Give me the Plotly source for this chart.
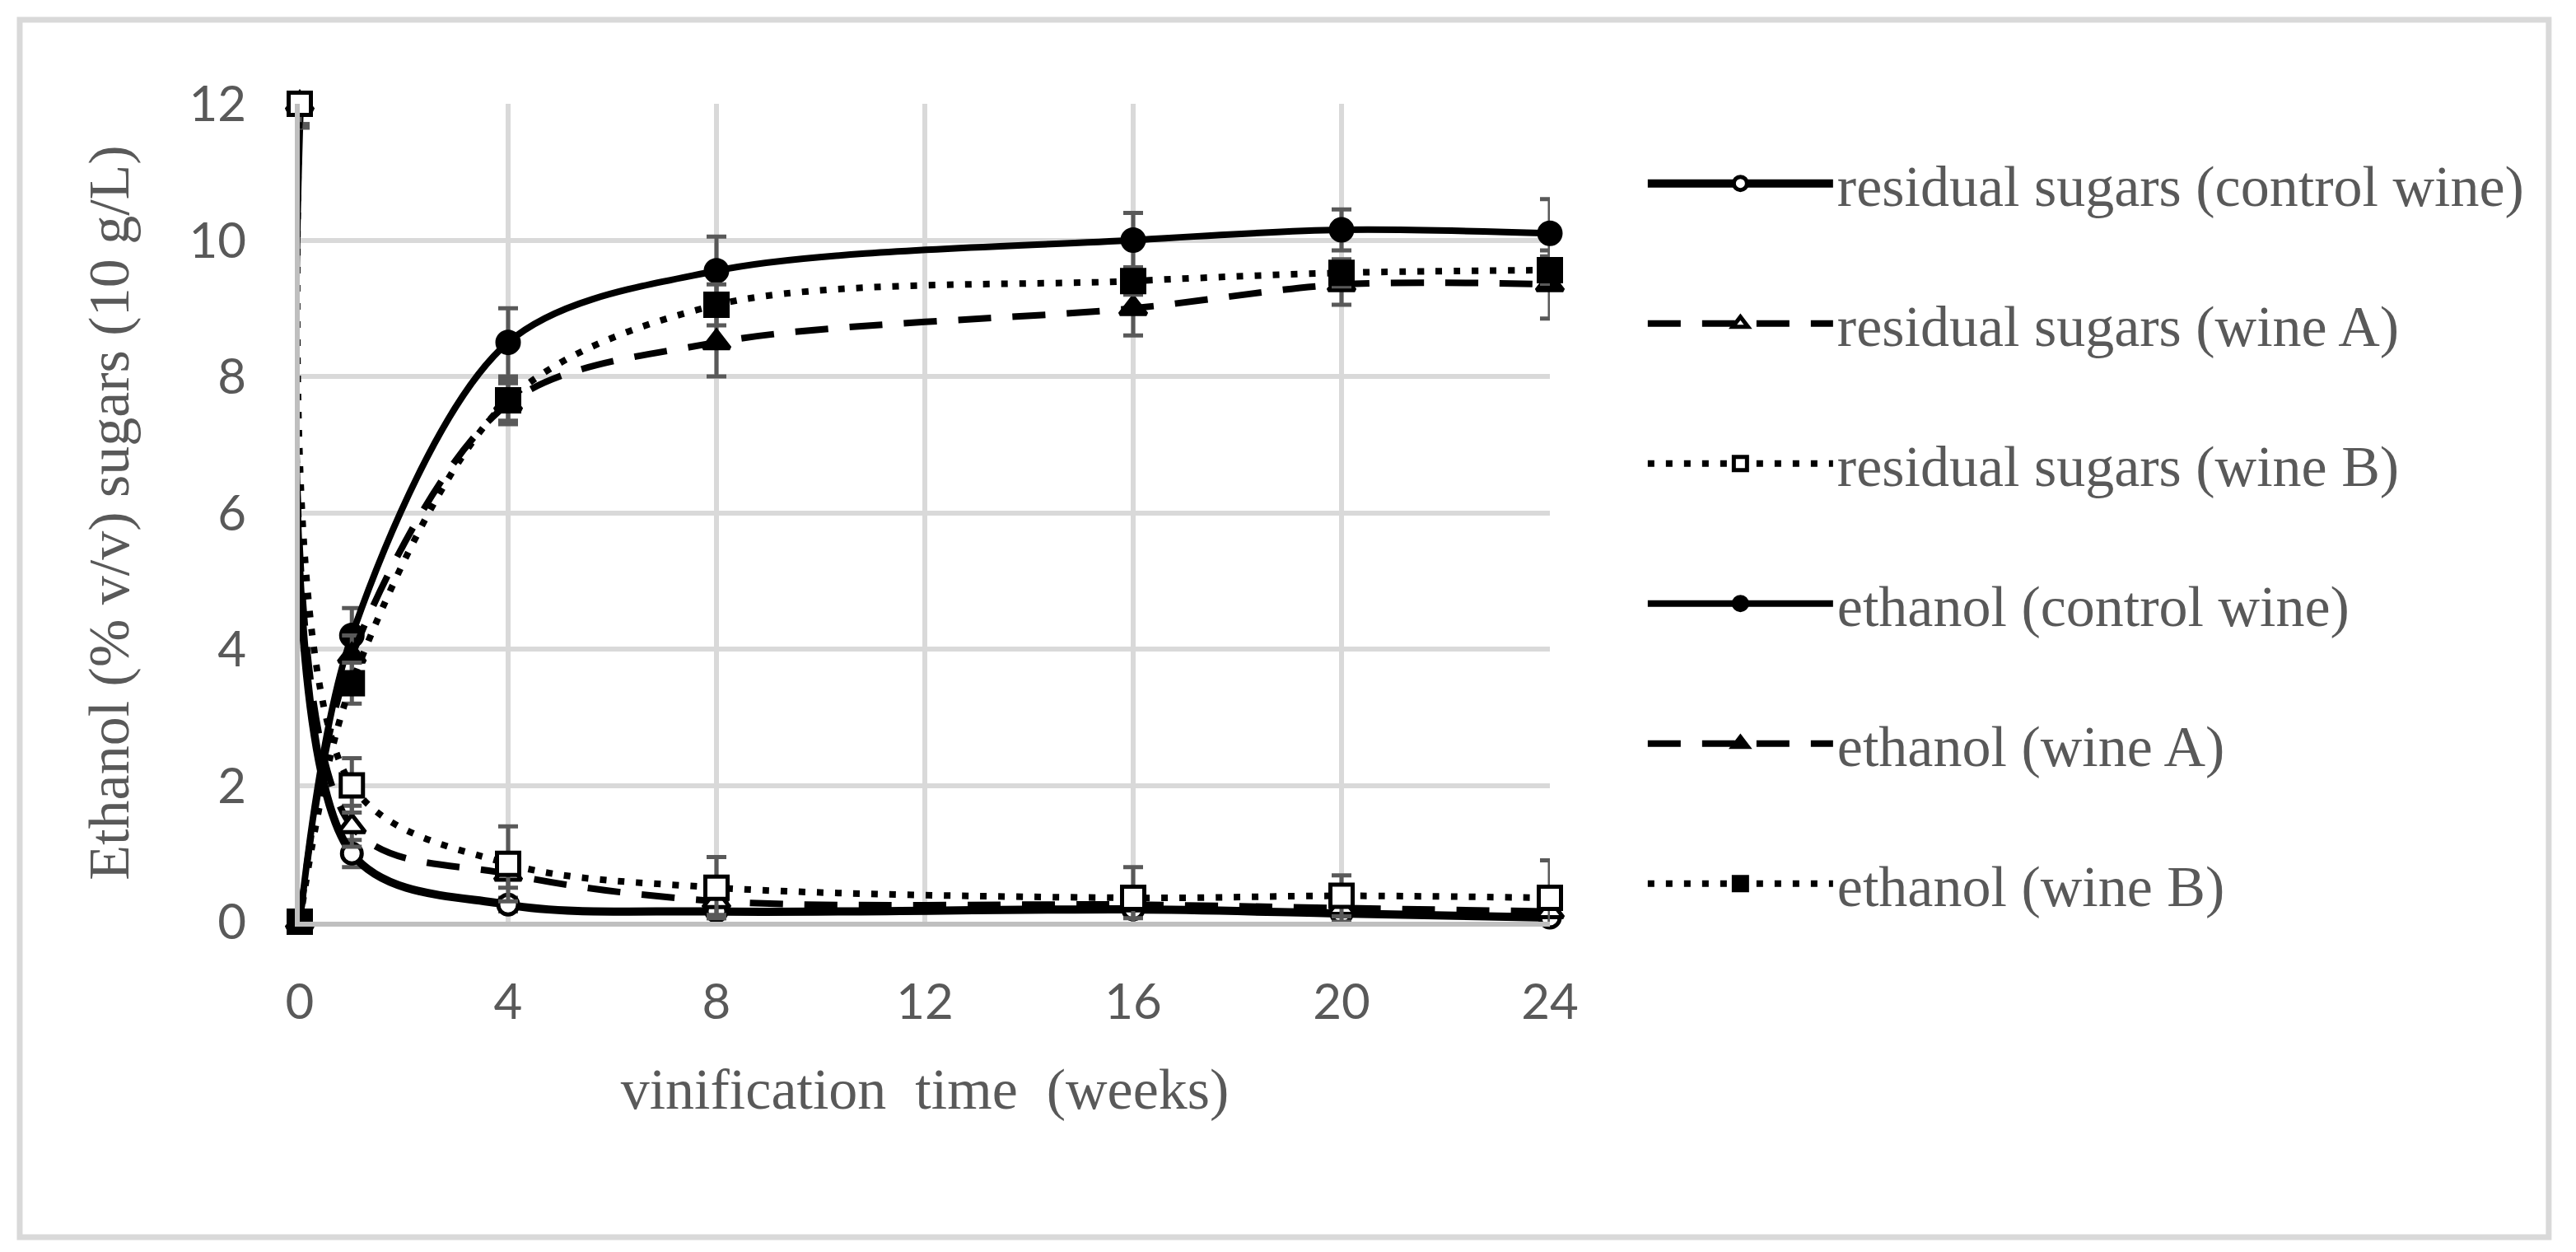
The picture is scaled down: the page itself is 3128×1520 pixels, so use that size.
import plotly.graph_objects as go

# ---------------- data ----------------
weeks = [0, 1, 4, 8, 16, 20, 24]

sugars_control = [12.0, 1.0, 0.25, 0.15, 0.18, 0.12, 0.06]
sugars_wine_a = [12.0, 1.4, 0.7, 0.3, 0.25, 0.2, 0.15]
sugars_wine_b = [12.0, 2.0, 0.85, 0.5, 0.35, 0.38, 0.35]
ethanol_control = [0.0, 4.2, 8.5, 9.55, 10.0, 10.15, 10.1]
ethanol_wine_a = [0.0, 3.9, 7.6, 8.5, 9.0, 9.35, 9.35]
ethanol_wine_b = [0.0, 3.5, 7.65, 9.05, 9.4, 9.52, 9.56]

err_sugars_control = [0.3, 0.2, 0.1, 0.1, 0.1, 0.1, 0.1]
err_sugars_wine_a = [0.3, 0.3, 0.2, 0.2, 0.2, 0.2, 0.2]
err_sugars_wine_b = [0.35, 0.4, 0.55, 0.45, 0.45, 0.3, 0.55]
err_ethanol_control = [0.0, 0.4, 0.5, 0.5, 0.4, 0.3, 0.5]
err_ethanol_wine_a = [0.0, 0.3, 0.3, 0.5, 0.4, 0.3, 0.5]
err_ethanol_wine_b = [0.0, 0.3, 0.3, 0.3, 0.2, 0.2, 0.2]

series_names = [
    "residual sugars (control wine)",
    "residual sugars (wine A)",
    "residual sugars (wine B)",
    "ethanol (control wine)",
    "ethanol (wine A)",
    "ethanol (wine B)",
]
series_values = [sugars_control, sugars_wine_a, sugars_wine_b,
                 ethanol_control, ethanol_wine_a, ethanol_wine_b]
series_errors = [err_sugars_control, err_sugars_wine_a, err_sugars_wine_b,
                 err_ethanol_control, err_ethanol_wine_a, err_ethanol_wine_b]

x_ticks = [0, 4, 8, 12, 16, 20, 24]
y_ticks = [0, 2, 4, 6, 8, 10, 12]

# ---------------- styles ----------------
DASH = "40px,26px"
DOT = "8px,14px"
styles = [
    dict(dash="solid", width=10, symbol="circle", size=24, fill="white"),
    dict(dash=DASH, width=8, symbol="triangle-up", size=28, fill="white"),
    dict(dash=DOT, width=8, symbol="square", size=27, fill="white"),
    dict(dash="solid", width=8, symbol="circle", size=26, fill="black"),
    dict(dash=DASH, width=8, symbol="triangle-up", size=28, fill="black"),
    dict(dash=DOT, width=8, symbol="square", size=27, fill="black"),
]

SERIF = "Liberation Serif, Times New Roman, serif"
SANS = "Lato, Liberation Sans, sans-serif"
GRAY = "#595959"

fig = go.Figure()
for i, (name, vals, errs, st) in enumerate(zip(series_names, series_values, series_errors, styles)):
    fig.add_trace(go.Scatter(
        x=weeks, y=vals, name=name, mode="lines+markers",
        legendgroup=f"g{i}",
        line=dict(color="black", width=st["width"], dash=st["dash"], shape="spline", smoothing=0.9),
        marker=dict(symbol=st["symbol"], size=st["size"], color=st["fill"],
                    line=dict(color="black", width=5)),
        error_y=dict(type="data", array=errs, visible=True, color=GRAY, thickness=5, width=12),
        cliponaxis=False,
    ))

# page body has an 8px default margin, so the figure is 8px smaller and shifted
fig.update_layout(
    width=3120, height=1512,
    margin=dict(l=356, r=1246, t=118, b=401),
    paper_bgcolor="white", plot_bgcolor="white",
    font=dict(family=SERIF, size=70, color=GRAY),
    showlegend=True,
    legend=dict(
        x=1.075, xanchor="left", y=0.955, yanchor="top",
        font=dict(family=SERIF, size=70, color=GRAY),
        itemwidth=225, tracegroupgap=76,
        bgcolor="rgba(0,0,0,0)",
    ),
    xaxis=dict(
        range=[0, 24], tickvals=x_ticks, ticktext=[str(v) for v in x_ticks],
        showgrid=True, gridcolor="#d9d9d9", gridwidth=6,
        showline=True, linecolor="#bfbfbf", linewidth=6,
        zeroline=False, ticks="",
        tickfont=dict(family=SANS, size=60, color=GRAY),
        ticklabelstandoff=40,
        title=dict(text="vinification  time  (weeks)", font=dict(family=SERIF, size=70, color=GRAY), standoff=50),
    ),
    yaxis=dict(
        range=[0, 12], tickvals=y_ticks, ticktext=[str(v) for v in y_ticks],
        showgrid=True, gridcolor="#d9d9d9", gridwidth=6,
        showline=True, linecolor="#bfbfbf", linewidth=6,
        zeroline=False, ticks="",
        tickfont=dict(family=SANS, size=60, color=GRAY),
        ticklabelstandoff=47,
        title=dict(text="Ethanol (% v/v) sugars (10 g/L)", font=dict(family=SERIF, size=70, color=GRAY), standoff=52),
    ),
    shapes=[dict(type="rect", xref="paper", yref="paper",
                 x0=-0.224, x1=1.799, y0=-0.3857, y1=1.1027,
                 line=dict(color="#d9d9d9", width=7), fillcolor="rgba(0,0,0,0)", layer="below")],
)

fig.write_html("out.html")
